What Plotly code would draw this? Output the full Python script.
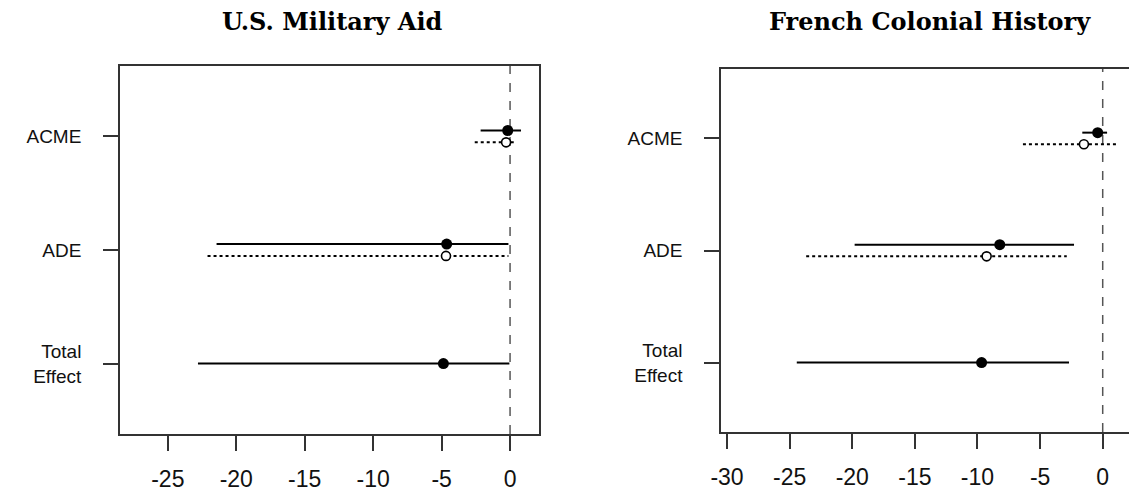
import plotly.graph_objects as go

# Effect labels, top to bottom
effects = ["ACME", "ADE", "Total<br>Effect"]
effect_pos = [3, 2, 1]

# U.S. Military Aid: point estimates and 95% intervals
aid_est = [-0.17, -4.63, -4.87]
aid_lo = [-2.15, -21.44, -22.8]
aid_hi = [0.8, -0.12, -0.05]
aid_sens_est = [-0.29, -4.68]
aid_sens_lo = [-2.58, -22.1]
aid_sens_hi = [0.48, -0.12]

# French Colonial History: point estimates and 95% intervals
fr_est = [-0.40, -8.22, -9.67]
fr_lo = [-1.63, -19.81, -24.43]
fr_hi = [0.35, -2.29, -2.69]
fr_sens_est = [-1.50, -9.27]
fr_sens_lo = [-6.37, -23.68]
fr_sens_hi = [1.14, -2.87]

aid_ticks = [-25, -20, -15, -10, -5, 0]
fr_ticks = [-30, -25, -20, -15, -10, -5, 0]

OFFSET = 0.052
W, H = 1129, 494


def segments(lo, hi, ys):
    xs, yy = [], []
    for a, b, y in zip(lo, hi, ys):
        xs += [a, b, None]
        yy += [y, y, None]
    return xs, yy


fig = go.Figure()


def add_panel(xa, ya, est, lo, hi, s_est, s_lo, s_hi):
    y_main = [p + OFFSET if i < len(s_est) else p for i, p in enumerate(effect_pos)]
    y_sens = [p - OFFSET for p in effect_pos[:len(s_est)]]
    xs, ys = segments(lo, hi, y_main)
    fig.add_trace(go.Scatter(x=xs, y=ys, mode="lines", xaxis=xa, yaxis=ya,
                             line=dict(color="black", width=2), hoverinfo="skip"))
    xs, ys = segments(s_lo, s_hi, y_sens)
    fig.add_trace(go.Scatter(x=xs, y=ys, mode="lines", xaxis=xa, yaxis=ya,
                             line=dict(color="black", width=2, dash="dot")))
    fig.add_trace(go.Scatter(x=est, y=y_main, mode="markers", xaxis=xa, yaxis=ya,
                             marker=dict(color="black", size=11, symbol="circle")))
    fig.add_trace(go.Scatter(x=s_est, y=y_sens, mode="markers", xaxis=xa, yaxis=ya,
                             marker=dict(color="white", size=9, symbol="circle",
                                         line=dict(color="black", width=1.6))))


add_panel("x", "y", aid_est, aid_lo, aid_hi, aid_sens_est, aid_sens_lo, aid_sens_hi)
add_panel("x2", "y2", fr_est, fr_lo, fr_hi, fr_sens_est, fr_sens_lo, fr_sens_hi)

axis_line = "#333333"
tick_font = dict(family="Liberation Sans, Arial, sans-serif", size=23, color="#111111")
ylab_font = dict(family="Liberation Sans, Arial, sans-serif", size=19, color="#111111")

common_x = dict(showgrid=False, zeroline=False, showline=True, linecolor=axis_line,
                linewidth=1.5, ticks="outside", ticklen=15, tickwidth=1.5,
                tickcolor=axis_line, tickfont=tick_font, ticklabelstandoff=9)
common_y = dict(showgrid=False, zeroline=False, showline=True, linecolor=axis_line,
                linewidth=1.5, ticks="outside", ticklen=15, tickwidth=1.5,
                tickcolor=axis_line, tickfont=ylab_font, tickvals=effect_pos,
                ticktext=effects, ticklabelstandoff=18, range=[0.38, 3.62])

fig.update_layout(
    width=W, height=H,
    margin=dict(l=0, r=0, t=0, b=0),
    plot_bgcolor="white", paper_bgcolor="white",
    showlegend=False,
    xaxis=dict(common_x, domain=[110 / W, 533 / W], range=[-28.5, 2.1],
               tickvals=aid_ticks, ticktext=[str(t) for t in aid_ticks],
               mirror=True, anchor="y"),
    yaxis=dict(common_y, domain=[1 - 434 / H, 1 - 66 / H], mirror=True, anchor="x"),
    xaxis2=dict(common_x, domain=[717 / W, 1.0], range=[-30.48, 2.1],
                tickvals=fr_ticks, ticktext=[str(t) for t in fr_ticks],
                mirror=True, anchor="y2"),
    yaxis2=dict(common_y, domain=[1 - 432 / H, 1 - 69 / H], mirror=False, anchor="x2"),
)

# Reference line at zero in each panel
for xr, yr in (("x", "y"), ("x2", "y2")):
    fig.add_shape(type="line", xref=xr, yref=yr + " domain", x0=0, x1=0, y0=0, y1=1,
                  line=dict(color="#555555", width=1.5, dash="dash"), layer="below")

title_font = dict(family="DejaVu Serif, Liberation Serif, serif", size=24, color="black")
fig.add_annotation(text="<b>U.S. Military Aid</b>", xref="paper", yref="paper",
                   x=325 / W, y=1 - 22 / H, showarrow=False, font=title_font,
                   xanchor="center", yanchor="middle")
fig.add_annotation(text="<b>French Colonial History</b>", xref="paper", yref="paper",
                   x=928 / W, y=1 - 22 / H, showarrow=False, font=title_font,
                   xanchor="center", yanchor="middle")

fig.write_html("out.html")
